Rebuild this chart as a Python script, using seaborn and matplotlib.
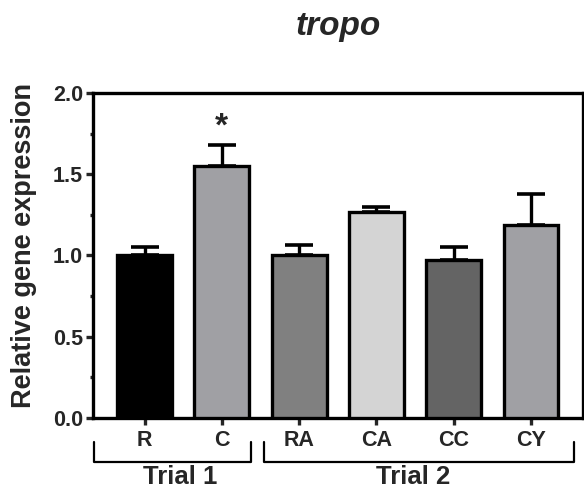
import numpy as np
import pandas as pd
import matplotlib
matplotlib.use("Agg")
import matplotlib.pyplot as plt
import seaborn as sns
from matplotlib.ticker import MultipleLocator, FormatStrFormatter

# Data
groups = ["R", "C", "RA", "CA", "CC", "CY"]
means = [1.00, 1.55, 1.00, 1.27, 0.97, 1.19]
sems = [0.05, 0.13, 0.065, 0.03, 0.08, 0.19]
colors = ["#000000", "#a0a0a4", "#808080", "#d4d4d4", "#646464", "#a0a0a4"]
trials = ["Trial 1", "Trial 2"]
trial_spans = [(-0.65, 1.37), (1.54, 5.56)]
trial_label_x = [0.46, 3.47]
star_value = 1.83

df = pd.DataFrame({"group": groups, "value": means})

sns.set_style("ticks")
plt.rcParams["font.family"] = ["Liberation Sans", "DejaVu Sans"]
plt.rcParams["font.weight"] = "bold"

fig = plt.figure(figsize=(5.84, 4.94), dpi=100)
ax = fig.add_axes([0.159, 0.154, 0.839, 0.658])

sns.barplot(data=df, x="group", y="value", hue="group", palette=colors,
            width=0.71, edgecolor="black", linewidth=2.4, legend=False,
            errorbar=None, ax=ax, zorder=3)

x = np.arange(len(groups))
ax.errorbar(x, means, yerr=[np.zeros(len(sems)), sems], fmt="none",
            ecolor="black", elinewidth=2.4, capsize=10, capthick=2.6, zorder=2)

ax.annotate("*", (1, star_value), xytext=(0, -5), textcoords="offset points",
            ha="center", va="center", fontsize=24, fontweight="bold")

ax.set_xlim(-0.67, 5.67)
ax.set_ylim(0, 2.0)
ax.yaxis.set_major_locator(MultipleLocator(0.5))
ax.yaxis.set_minor_locator(MultipleLocator(0.25))
ax.yaxis.set_major_formatter(FormatStrFormatter("%.1f"))

for sp in ax.spines.values():
    sp.set_linewidth(2.4)
    sp.set_color("black")
ax.tick_params(axis="both", which="major", width=2.4, length=5,
               labelsize=15.5, pad=2)
ax.tick_params(axis="x", which="major", pad=4)
ax.tick_params(axis="y", which="minor", width=2.4, length=2.5)
for lab in ax.get_xticklabels() + ax.get_yticklabels():
    lab.set_fontweight("bold")

ax.set_xlabel("")
ax.set_ylabel("Relative gene expression", fontsize=19.5, fontweight="bold")
ax.yaxis.set_label_coords(-0.115, 0.53)
ax.set_title("tropo", fontsize=24, fontweight="bold", style="italic", pad=42)

# trial brackets below the axis
tr = ax.get_xaxis_transform()
for name, (a, b), lx in zip(trials, trial_spans, trial_label_x):
    ax.plot([a, a, b, b], [-0.074, -0.136, -0.136, -0.074], color="black",
            lw=1.6, transform=tr, clip_on=False)
    ax.text(lx, -0.182, name, transform=tr, ha="center", va="center",
            fontsize=18.5, fontweight="bold")

fig.savefig("out.png", dpi=100)
